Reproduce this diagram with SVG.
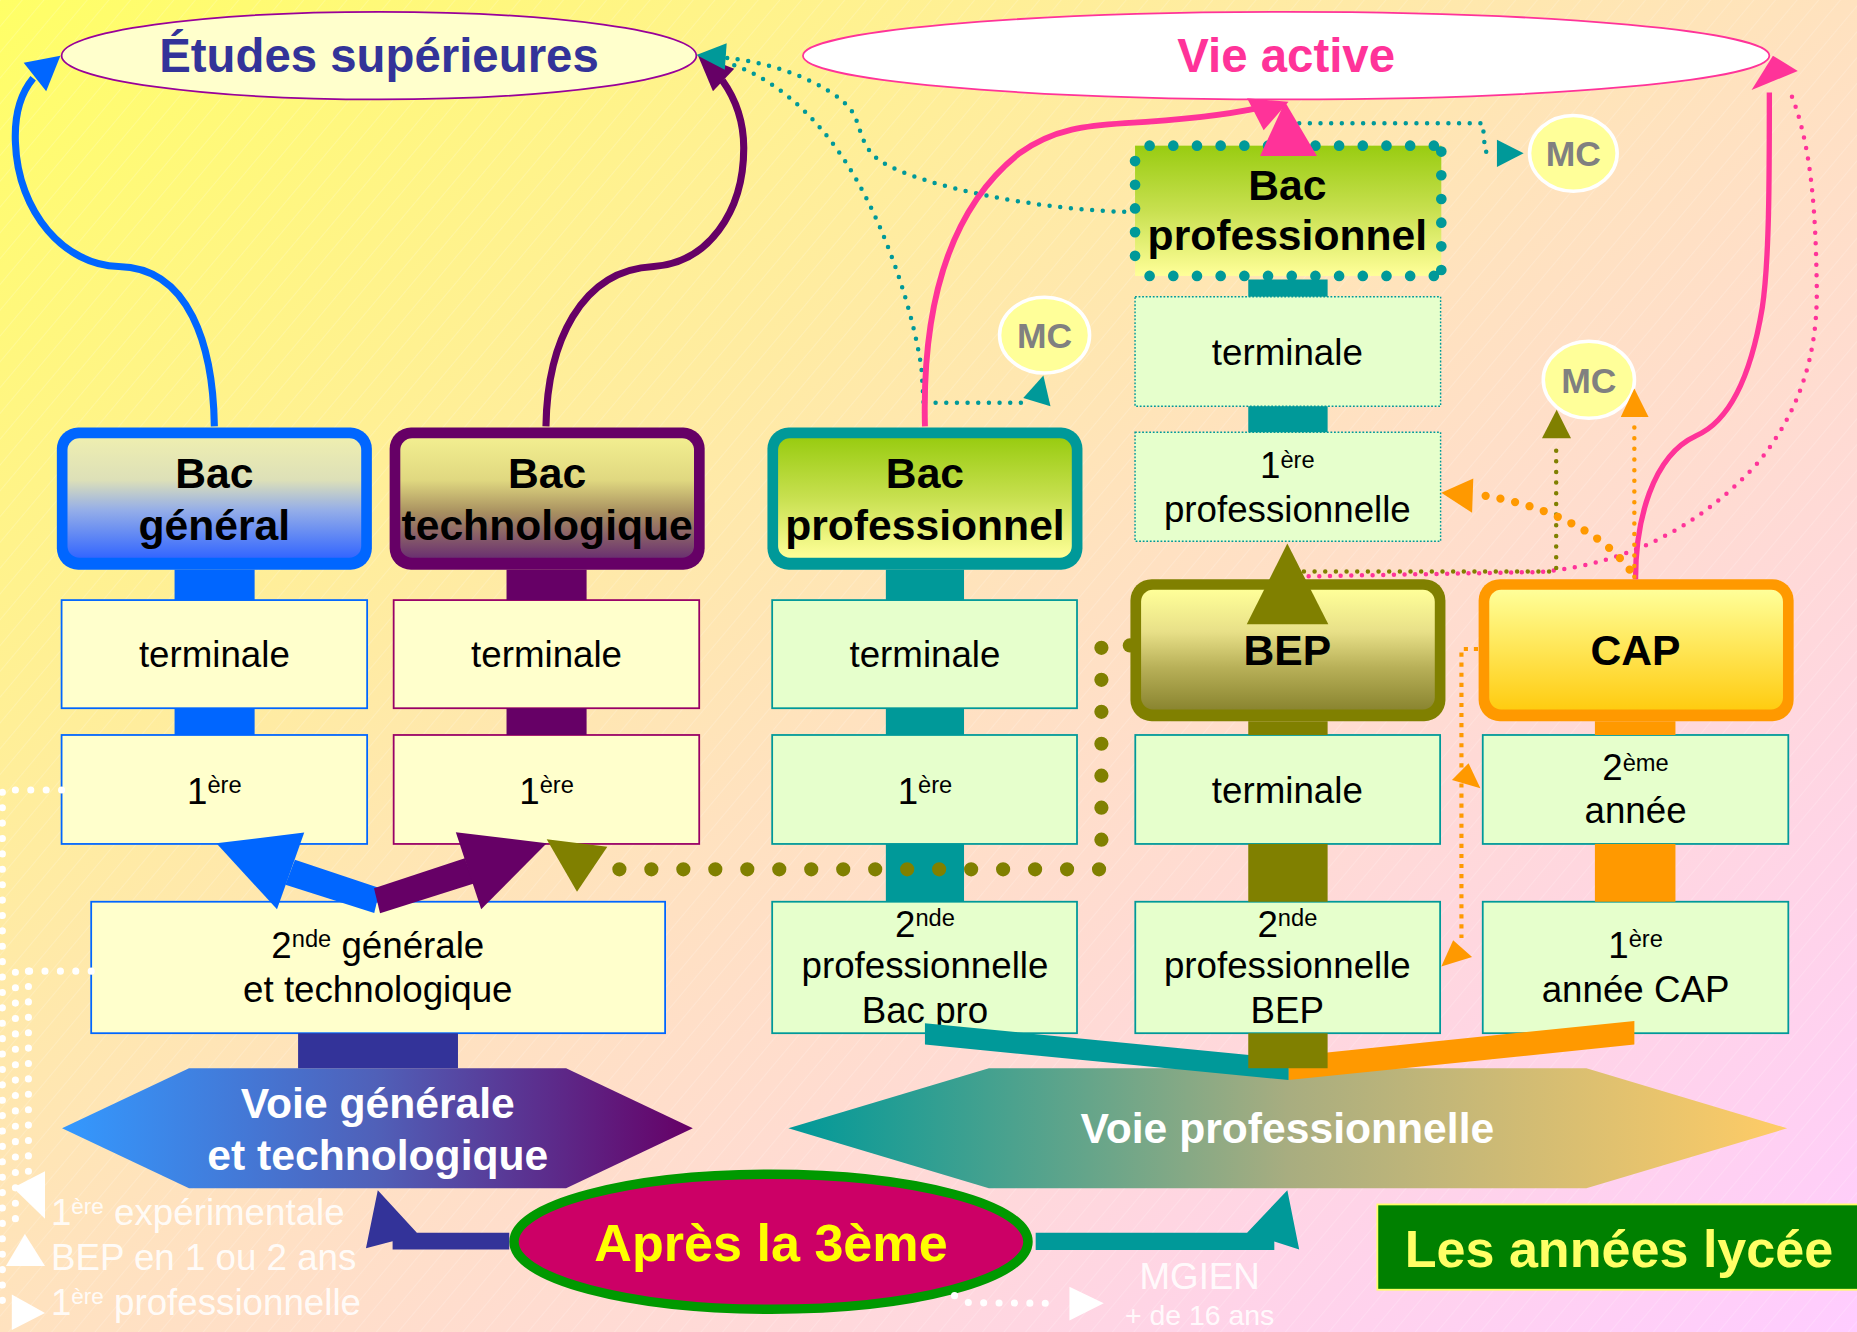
<svg xmlns="http://www.w3.org/2000/svg" width="1857" height="1332" viewBox="0 0 1857 1332">
<defs>
<linearGradient id="gBg" x1="0" y1="0" x2="1" y2="1">
<stop offset="0" stop-color="#ffff66"/><stop offset="0.5" stop-color="#ffe2bf"/><stop offset="1" stop-color="#ffccff"/>
</linearGradient>
<pattern id="hatch" width="14" height="14" patternUnits="userSpaceOnUse" patternTransform="rotate(40)">
<line x1="0" y1="0" x2="0" y2="14" stroke="#ffffff" stroke-width="1" stroke-opacity="0.3"/>
</pattern>
<linearGradient id="gGen" x1="0" y1="0" x2="0" y2="1">
<stop offset="0" stop-color="#eeeeb0"/><stop offset="0.35" stop-color="#dde0b8"/><stop offset="0.6" stop-color="#95aee8"/><stop offset="1" stop-color="#3366ff"/>
</linearGradient>
<linearGradient id="gTech" x1="0" y1="0" x2="0" y2="1">
<stop offset="0" stop-color="#f2ee90"/><stop offset="0.35" stop-color="#e0d880"/><stop offset="0.62" stop-color="#a89060"/><stop offset="1" stop-color="#6a3070"/>
</linearGradient>
<linearGradient id="gPro" x1="0" y1="0" x2="0" y2="1">
<stop offset="0" stop-color="#99cc11"/><stop offset="0.5" stop-color="#c8e050"/><stop offset="1" stop-color="#ffff99"/>
</linearGradient>
<linearGradient id="gBep" x1="0" y1="0" x2="0" y2="1">
<stop offset="0" stop-color="#ffff99"/><stop offset="0.35" stop-color="#e8e088"/><stop offset="0.65" stop-color="#b8b058"/><stop offset="1" stop-color="#8a8530"/>
</linearGradient>
<linearGradient id="gCap" x1="0" y1="0" x2="0" y2="1">
<stop offset="0" stop-color="#ffff99"/><stop offset="1" stop-color="#ffcc11"/>
</linearGradient>
<linearGradient id="gVg" x1="0" y1="0" x2="1" y2="0">
<stop offset="0" stop-color="#3399ff"/><stop offset="0.5" stop-color="#5060b8"/><stop offset="1" stop-color="#660066"/>
</linearGradient>
<linearGradient id="gVp" x1="0" y1="0" x2="1" y2="0">
<stop offset="0" stop-color="#009999"/><stop offset="0.5" stop-color="#a8ad80"/><stop offset="1" stop-color="#ffcc66"/>
</linearGradient>
<style>
.f{font-family:"Liberation Sans",Arial,Helvetica,sans-serif}
.t31{font-size:31px;text-anchor:middle;fill:#000}
.hd{font-size:36px;font-weight:bold;text-anchor:middle;fill:#000}
.sp{font-size:20px}
.mc{font-size:30px;font-weight:bold;fill:#808080;text-anchor:middle}
.wl{font-size:31px;fill:#ffffff;fill-opacity:0.9}
.vo{font-size:36px;font-weight:bold;fill:#ffffff;text-anchor:middle}
.bxY{fill:#ffffcc;stroke-width:1.5}
.bxG{fill:#e6ffcc;stroke:#009999;stroke-width:1.5}
.bxD{fill:#e6ffcc;stroke:#009999;stroke-width:1.2;stroke-dasharray:1.5 1.5}
.mce{fill:#ffff99;stroke:#ffffff;stroke-width:3}
.dT{fill:none;stroke:#009999;stroke-width:3.8;stroke-linecap:round;stroke-dasharray:0 9}
.dP{fill:none;stroke:#ff3399;stroke-width:3.8;stroke-linecap:round;stroke-dasharray:0 9}
.dO{fill:none;stroke:#808000;stroke-width:3.8;stroke-linecap:round;stroke-dasharray:0 9}
.dOr{fill:none;stroke:#ff9900;stroke-width:3.8;stroke-linecap:round;stroke-dasharray:0 9}
.dOrL{fill:none;stroke:#ff9900;stroke-width:7;stroke-linecap:round;stroke-dasharray:0 12.7}
.dOrS{fill:none;stroke:#ff9900;stroke-width:3.5;stroke-dasharray:3.5 5}
.dOlL{fill:none;stroke:#808000;stroke-width:12;stroke-linecap:round;stroke-dasharray:0 27}
.dW{fill:none;stroke:#ffffff;stroke-width:6;stroke-linecap:round;stroke-dasharray:0 13}
.dTL{fill:none;stroke:#009999;stroke-width:9;stroke-linecap:round;stroke-dasharray:0 20}
</style>
</defs>
<g transform="scale(1.18431)">
<rect width="1568" height="1125" fill="url(#gBg)"/>
<rect width="1568" height="1125" fill="url(#hatch)"/>

<g id="etudes-superieures">
<ellipse cx="320" cy="47" rx="268" ry="37" fill="#ffffcc" stroke="#990099" stroke-width="1.5"/>
<text x="320" y="61" class="f" font-size="40" font-weight="bold" fill="#333399" text-anchor="middle">Études supérieures</text>
</g>
<g id="vie-active">
<ellipse cx="1086" cy="47" rx="408" ry="37" fill="#ffffff" stroke="#ff3399" stroke-width="1.5"/>
<text x="1086" y="61" class="f" font-size="40" font-weight="bold" fill="#ff3399" text-anchor="middle">Vie active</text>
</g>

<g id="bac-pro-haut">
<rect x="958.4" y="123" width="258.6" height="110" fill="url(#gPro)"/>
<path class="dTL" d="M970.7,123 L1211,123 M970.7,233 L1211,233 M958.4,136 L958.4,217 M1217,128 L1217,229"/>
<text x="1087" y="169" class="f hd">Bac</text>
<text x="1087" y="211" class="f hd">professionnel</text>
</g>
<g id="terminale-bac-pro-haut">
<rect x="958.4" y="250.5" width="258" height="92.5" class="bxD"/>
<text x="1087" y="308" class="f t31">terminale</text>
</g>
<g id="premiere-professionnelle">
<rect x="958.4" y="365" width="258" height="92" class="bxD"/>
<text x="1087" y="404" class="f t31">1<tspan class="sp" dy="-9">ère</tspan></text>
<text x="1087" y="440.5" class="f t31">professionnelle</text>
</g>

<g id="bac-general">
<rect x="48" y="361" width="266" height="120" rx="18" fill="#0066ff"/>
<rect x="57" y="370" width="248" height="101" rx="10" fill="url(#gGen)"/>
<text x="181" y="412" class="f hd">Bac</text>
<text x="181" y="456" class="f hd">général</text>
</g>
<g id="terminale-generale">
<rect x="52" y="506.7" width="258" height="91.3" class="bxY" stroke="#0066ff"/>
<text x="181" y="563.5" class="f t31">terminale</text>
</g>
<g id="premiere-generale">
<rect x="52" y="620.6" width="258" height="92" class="bxY" stroke="#0066ff"/>
<text x="181" y="679" class="f t31">1<tspan class="sp" dy="-9">ère</tspan></text>
</g>

<g id="bac-technologique">
<rect x="329" y="361" width="266" height="120" rx="18" fill="#660066"/>
<rect x="338" y="370" width="248" height="101" rx="10" fill="url(#gTech)"/>
<text x="462" y="412" class="f hd">Bac</text>
<text x="462" y="456" class="f hd">technologique</text>
</g>
<g id="terminale-techno">
<rect x="332.4" y="506.7" width="258" height="91.3" class="bxY" stroke="#990066"/>
<text x="461.5" y="563.5" class="f t31">terminale</text>
</g>
<g id="premiere-techno">
<rect x="332.4" y="620.6" width="258" height="92" class="bxY" stroke="#990066"/>
<text x="461.5" y="679" class="f t31">1<tspan class="sp" dy="-9">ère</tspan></text>
</g>

<g id="seconde-generale">
<rect x="77" y="761.4" width="484.6" height="111" class="bxY" stroke="#0066ff"/>
<text x="319" y="809" class="f t31">2<tspan class="sp" dy="-9">nde</tspan><tspan dy="9"> générale</tspan></text>
<text x="319" y="845.8" class="f t31">et technologique</text>
</g>

<g id="bac-professionnel">
<rect x="648" y="361" width="266" height="120" rx="18" fill="#009999"/>
<rect x="657" y="370" width="248" height="101" rx="10" fill="url(#gPro)"/>
<text x="781" y="412" class="f hd">Bac</text>
<text x="781" y="456" class="f hd">professionnel</text>
</g>
<g id="terminale-pro">
<rect x="652" y="506.7" width="257.4" height="91.3" class="bxG"/>
<text x="781" y="563.5" class="f t31">terminale</text>
</g>
<g id="premiere-pro">
<rect x="652" y="620.6" width="257.4" height="92" class="bxG"/>
<text x="781" y="679" class="f t31">1<tspan class="sp" dy="-9">ère</tspan></text>
</g>
<g id="seconde-pro-bac-pro">
<rect x="652" y="761.4" width="257.4" height="111" class="bxG"/>
<text x="781" y="791" class="f t31">2<tspan class="sp" dy="-9">nde</tspan></text>
<text x="781" y="826" class="f t31">professionnelle</text>
<text x="781" y="864" class="f t31">Bac pro</text>
</g>

<g id="bep">
<rect x="954.5" y="489" width="266" height="120" rx="18" fill="#808000"/>
<rect x="963.5" y="498" width="248" height="101" rx="10" fill="url(#gBep)"/>
<text x="1087" y="561.5" class="f hd">BEP</text>
</g>
<g id="terminale-bep">
<rect x="958.6" y="620.6" width="257.4" height="92" class="bxG"/>
<text x="1087" y="678" class="f t31">terminale</text>
</g>
<g id="seconde-pro-bep">
<rect x="958.6" y="761.4" width="257.4" height="111" class="bxG"/>
<text x="1087" y="791" class="f t31">2<tspan class="sp" dy="-9">nde</tspan></text>
<text x="1087" y="826" class="f t31">professionnelle</text>
<text x="1087" y="864" class="f t31">BEP</text>
</g>

<g id="cap">
<rect x="1248.5" y="489" width="266" height="120" rx="18" fill="#ff9900"/>
<rect x="1257.5" y="498" width="248" height="101" rx="10" fill="url(#gCap)"/>
<text x="1381" y="561.5" class="f hd">CAP</text>
</g>
<g id="deuxieme-annee-cap">
<rect x="1252" y="620.6" width="258" height="92" class="bxG"/>
<text x="1381" y="658.6" class="f t31">2<tspan class="sp" dy="-8">ème</tspan></text>
<text x="1381" y="695" class="f t31">année</text>
</g>
<g id="premiere-annee-cap">
<rect x="1252" y="761.4" width="258" height="111" class="bxG"/>
<text x="1381" y="809" class="f t31">1<tspan class="sp" dy="-9">ère</tspan></text>
<text x="1381" y="845.8" class="f t31">année CAP</text>
</g>

<g id="voie-generale">
<polygon points="52.4,952.7 159.6,902 478,902 585,952.7 478,1003.4 159.6,1003.4" fill="url(#gVg)"/>
<text x="319" y="944" class="f vo">Voie générale</text>
<text x="319" y="988" class="f vo">et technologique</text>
</g>
<g id="voie-professionnelle">
<polygon points="665.7,952.7 835,902 1339.5,902 1509,952.7 1339.5,1003.4 835,1003.4" fill="url(#gVp)"/>
<text x="1087" y="965.4" class="f vo">Voie professionnelle</text>
</g>

<g id="apres-3eme">
<ellipse cx="651" cy="1048.5" rx="217" ry="57" fill="#cc0066" stroke="#009900" stroke-width="8"/>
<text x="651" y="1065" class="f" font-size="44" font-weight="bold" fill="#ffff00" text-anchor="middle">Après la 3ème</text>
</g>

<g id="mc-bac-pro">
<ellipse cx="882" cy="283" rx="38" ry="32" class="mce"/>
<text x="882" y="294" class="f mc">MC</text>
</g>
<g id="mc-haut">
<ellipse cx="1328.5" cy="129.5" rx="37" ry="32" class="mce"/>
<text x="1328.5" y="140.5" class="f mc">MC</text>
</g>
<g id="mc-cap">
<ellipse cx="1341.6" cy="320.7" rx="38.5" ry="32.5" class="mce"/>
<text x="1341.6" y="331.7" class="f mc">MC</text>
</g>

<g id="annees-lycee">
<rect x="1163" y="1017" width="410" height="72" fill="#008000" stroke="#ffff66" stroke-width="1.5"/>
<text x="1367" y="1069.5" class="f" font-size="44" font-weight="bold" fill="#ffff66" text-anchor="middle">Les années lycée</text>
</g>

<g id="legende">
<text x="43" y="1034.4" class="f wl">1<tspan font-size="19" dy="-9">ère</tspan><tspan dy="9"> expérimentale</tspan></text>
<text x="43" y="1072.4" class="f wl">BEP en 1 ou 2 ans</text>
<text x="43" y="1110.4" class="f wl">1<tspan font-size="19" dy="-9">ère</tspan><tspan dy="9"> professionnelle</tspan></text>
<text x="1013" y="1088" class="f wl" font-size="28" text-anchor="middle">MGIEN<tspan x="1013" y="1119" font-size="24">+ de 16 ans</tspan></text>
</g>

<g id="connectors">
<rect x="147.4" y="481" width="67.6" height="25.7" fill="#0066ff"/>
<rect x="147.4" y="598" width="67.6" height="22.6" fill="#0066ff"/>
<rect x="427.7" y="481" width="67.6" height="25.7" fill="#660066"/>
<rect x="427.7" y="598" width="67.6" height="22.6" fill="#660066"/>
<rect x="251.7" y="872.5" width="135" height="29.5" fill="#333399"/>
<rect x="748" y="481" width="66" height="25.7" fill="#009999"/>
<rect x="748" y="598" width="66" height="22.6" fill="#009999"/>
<rect x="748" y="712.6" width="66" height="48.8" fill="#009999"/>
<rect x="1054" y="236" width="67" height="14.5" fill="#009999"/>
<rect x="1054" y="343" width="67" height="22" fill="#009999"/>
<rect x="1054" y="609" width="67" height="11.6" fill="#808000"/>
<rect x="1054" y="712.6" width="67" height="48.8" fill="#808000"/>
<rect x="1346.7" y="609" width="68" height="11.6" fill="#ff9900"/>
<rect x="1346.7" y="712.6" width="68" height="48.8" fill="#ff9900"/>
<polygon points="1088,892 1380,862 1380,882 1088,912" fill="#ff9900"/>
<polygon points="781,864 1088,894 1088,912 781,882" fill="#009999"/>
<rect x="1054" y="872.5" width="67" height="29.5" fill="#808000"/>

<path d="M181,360 C180,292 160,226 100,225 C55,224 15,180 13,120 C12,95 18,78 28,66" fill="none" stroke="#0066ff" stroke-width="6"/>
<polygon points="51,47 20,53 39,77" fill="#0066ff"/>
<path d="M461,360 C462,290 490,228 552,225 C597,222 628,180 628,125 C628,100 620,82 610,68" fill="none" stroke="#660066" stroke-width="6"/>
<polygon points="589,46 602,77 620,58" fill="#660066"/>

<path class="dT" d="M614,49 C650,52 700,70 718,92 C728,105 725,125 745,137 C780,158 880,178 957,179"/>
<path class="dT" d="M620,55 C665,72 700,110 725,155 C750,200 770,260 778,310 L781,360"/>
<path class="dT" d="M781,340 L866,340"/>
<polygon points="881,317 864,336 887,343" fill="#009999"/>
<polygon points="588,46.5 613.6,36.6 612,59" fill="#009999"/>
<path class="dT" d="M1088,122 L1088,104 L1252,104 L1254,128 L1262,129"/>
<polygon points="1286.5,129.5 1264,118 1264,141" fill="#009999"/>

<path d="M781,360 C778,240 810,170 860,130 C890,108 920,106 950,104 C1000,101 1035,97 1063,91" fill="none" stroke="#ff3399" stroke-width="5"/>
<polygon points="1053,83 1088,86 1067,110" fill="#ff3399"/>
<polygon points="1085,86 1064,131.7 1112,131.7" fill="#ff3399"/>
<path class="dP" d="M1087,487 L1300,483 C1380,476 1440,440 1485,390 C1525,340 1535,290 1534,240 C1533,180 1530,120 1510,74"/>
<path d="M1381,489 C1381,440 1395,385 1432,368 C1460,356 1478,320 1488,260 C1494,220 1494,150 1494,78" fill="none" stroke="#ff3399" stroke-width="4.5"/>
<polygon points="1497,47 1479,76 1518,60" fill="#ff3399"/>

<path class="dO" d="M1101,482.5 L1314,482.5 L1314,372"/>
<polygon points="1314.4,346 1302,370 1326.5,370" fill="#808000"/>
<polygon points="1087,459 1052.7,527 1121.6,527" fill="#808000"/>
<circle cx="954" cy="545" r="6" fill="#808000"/>
<path class="dOlL" d="M930,547 L930,734 L517,734"/>
<polygon points="461.6,708.7 512.8,715 487.2,753" fill="#808000"/>

<path class="dOrL" d="M1376,481 C1360,460 1340,447 1310,434 C1290,426 1270,421 1250,418"/>
<polygon points="1217,416 1244,404 1243,433" fill="#ff9900"/>
<path class="dOr" d="M1380,487 L1380,355"/>
<polygon points="1380,328 1368.5,352 1392,352" fill="#ff9900"/>
<path class="dOrS" d="M1248,548 L1234,548 L1234,792"/>
<polygon points="1226,658.6 1240,644.5 1250,665.6" fill="#ff9900"/>
<polygon points="1217,816 1227,794 1243,808" fill="#ff9900"/>

<polygon points="249,726 321,750 316,771 241,747" fill="#0066ff"/>
<polygon points="182.7,712 256.9,703 233.9,767.8" fill="#0066ff"/>
<polygon points="315.8,750 392.5,724.7 400.2,745.9 320.9,771.2" fill="#660066"/>
<polygon points="384.9,702.8 461.6,712 406.3,767.8" fill="#660066"/>

<polygon points="430,1041 352,1041 319,1005 309,1054 331.5,1048 331.5,1055 430,1055" fill="#333399"/>
<polygon points="874.5,1041 1053,1041 1087,1005 1097,1055 1076,1048.3 1076,1055.5 874.5,1055.5" fill="#009999"/>

<path class="dW" d="M52,667 L2,667 L2,1108"/>
<path class="dW" d="M77,820 L13,820 L13,1040"/>
<path class="dW" d="M24,820 L24,990"/>
<polygon points="11,1003 38,989 38,1029" fill="#ffffff"/>
<polygon points="21,1042 5,1069 38,1069" fill="#ffffff"/>
<polygon points="38,1108.7 10,1093 10,1123" fill="#ffffff"/>
<path class="dW" d="M806,1094 L818,1100 L895,1100.5"/>
<polygon points="932,1100.5 903,1086.5 903,1115" fill="#ffffff"/>
</g>
</g>
</svg>
